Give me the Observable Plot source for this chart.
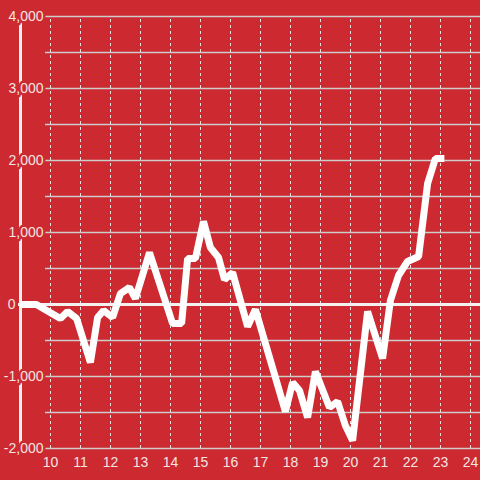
<!DOCTYPE html>
<html>
<head>
<meta charset="utf-8">
<script src="https://cdn.jsdelivr.net/npm/d3@7"></script>
<script src="https://cdn.jsdelivr.net/npm/@observablehq/plot@0.6"></script>
<style>
  html, body { margin: 0; padding: 0; background: #cc2a30; }
</style>
</head>
<body>
<div id="chart"></div>
<script>
// Data
const xs = [9.0, 9.53, 10.33, 10.57, 10.87, 11.33, 11.57, 11.77, 12.07, 12.33, 12.63, 12.83, 13.3,
  14.07, 14.37, 14.57, 14.83, 15.1, 15.33, 15.6, 15.8, 16.07, 16.57, 16.83,
  17.83, 18.07, 18.3, 18.57, 18.83, 19.3, 19.57, 19.83, 20.07, 20.57, 21.07,
  21.33, 21.6, 21.9, 22.27, 22.57, 22.83, 23.13];
const values = [0, 0, -195, -97, -195, -805, -180, -83, -180, 150, 236, 83, 722,
  -264, -264, 639, 639, 1153, 792, 653, 347, 444, -306, -69,
  -1486, -1083, -1194, -1569, -931, -1430, -1347, -1680, -1889, -97, -750,
  56, 403, 597, 667, 1681, 2028, 2028];
const xTicks = [10, 11, 12, 13, 14, 15, 16, 17, 18, 19, 20, 21, 22, 23, 24];
const yTicks = [-2000, -1000, 0, 1000, 2000, 3000, 4000];
const yGrid = [-2000, -1500, -1000, -500, 0, 500, 1000, 1500, 2000, 2500, 3000, 3500, 4000];

const series = xs.map((x, i) => ({x, y: values[i]}));
const xDomain = [9.8333, 24.3333];
const yDomain = [-2000, 4000];
const axisX = 9.0;
const fmt = d => d3.format(",")(d).replace("\u2212", "-");
const bg = "#cc2a30";
const font = "Liberation Sans, Arial, sans-serif";
const labelColor = "#f3e4e4";

const chart = Plot.plot({
  width: 480,
  height: 480,
  marginLeft: 45,
  marginRight: 0,
  marginTop: 16,
  marginBottom: 32,
  style: {background: bg, fontFamily: font, overflow: "visible"},
  x: {domain: xDomain, axis: null},
  y: {domain: yDomain, axis: null},
  marks: [
    Plot.ruleY(yGrid, {y: d => d, x1: xDomain[0], x2: xDomain[1], stroke: "#d0cccc", strokeWidth: 1.5}),
    Plot.ruleX(xTicks, {x: d => d, y1: yDomain[0], y2: yDomain[1], stroke: "#e8e0e0", strokeWidth: 1, strokeDasharray: "3,3"}),
    Plot.ruleX([axisX], {x: d => d, y1: yDomain[0], y2: yDomain[1], stroke: "#f2f0f0", strokeWidth: 3}),
    Plot.text(yTicks.filter(d => d !== 0), {
      x: xDomain[0], y: d => d, text: fmt, dx: -2,
      textAnchor: "end", lineAnchor: "middle",
      fill: labelColor, stroke: bg, strokeWidth: 5,
      fontSize: 14, fontFamily: font
    }),
    Plot.text(yTicks.filter(d => d === 0), {
      x: xDomain[0], y: d => d, text: fmt, dx: -30,
      textAnchor: "end", lineAnchor: "middle",
      fill: labelColor, fontSize: 14, fontFamily: font
    }),
    Plot.text(xTicks, {
      x: d => d, y: yDomain[0], text: d => String(d), dy: 14,
      textAnchor: "middle", lineAnchor: "middle",
      fill: labelColor, fontSize: 14, fontFamily: font
    }),
    Plot.ruleY([0], {y: d => d, x1: axisX - 0.0667, x2: xDomain[1], stroke: "#f2f0f0", strokeWidth: 3}),
    Plot.line(series, {x: "x", y: "y", stroke: "#ffffff", strokeWidth: 7, strokeLinejoin: "bevel", strokeLinecap: "butt"})
  ]
});
document.getElementById("chart").appendChild(chart);
</script>
</body>
</html>
